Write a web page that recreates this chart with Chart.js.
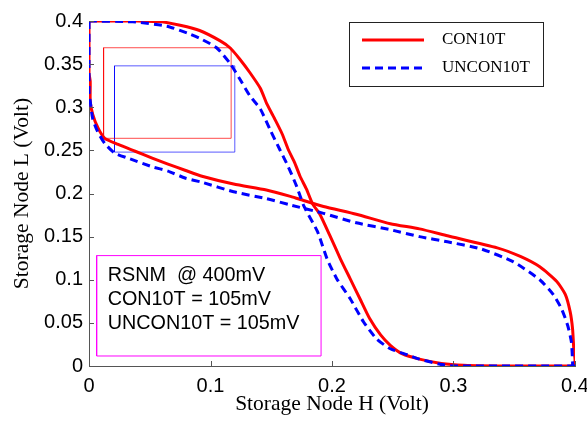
<!DOCTYPE html>
<html>
<head>
<meta charset="utf-8">
<script src="https://cdn.jsdelivr.net/npm/chart.js@4/dist/chart.umd.min.js"></script>
<style>
  html, body { margin: 0; padding: 0; background: #fff; }
  #wrap { width: 587px; height: 422px; }
</style>
</head>
<body>
<div id="wrap"><canvas id="myChart"></canvas></div>
<script>
// CON10T butterfly curves (H and L in volt)
var conH1 = [0, 0.02, 0.04, 0.06, 0.075, 0.091, 0.108, 0.116, 0.124, 0.1325, 0.141, 0.1465, 0.153, 0.159, 0.164, 0.1695, 0.1737, 0.179, 0.184, 0.190, 0.198, 0.207, 0.215, 0.223, 0.231, 0.240, 0.248, 0.258, 0.272, 0.290, 0.308, 0.35, 0.4];
var conL1 = [0.4, 0.4, 0.4, 0.399, 0.395, 0.389, 0.377, 0.369, 0.356, 0.340, 0.322, 0.3035, 0.286, 0.269, 0.251, 0.235, 0.220, 0.205, 0.188, 0.176, 0.152, 0.124, 0.101, 0.078, 0.055, 0.036, 0.024, 0.014, 0.008, 0.003, 0.001, 0, 0];
var conH2 = [0, 0, 0.001, 0.001, 0.003, 0.0074, 0.013, 0.024, 0.038, 0.052, 0.065, 0.079, 0.093, 0.119, 0.146, 0.165, 0.174, 0.193, 0.220, 0.248, 0.272, 0.295, 0.336, 0.355, 0.371, 0.385, 0.392, 0.396, 0.398, 0.399, 0.4, 0.4];
var conL2 = [0.4, 0.34, 0.330, 0.307, 0.292, 0.276, 0.264, 0.257, 0.249, 0.241, 0.234, 0.227, 0.220, 0.211, 0.204, 0.197, 0.193, 0.185, 0.176, 0.165, 0.159, 0.151, 0.137, 0.127, 0.115, 0.098, 0.083, 0.063, 0.043, 0.02, 0.008, 0];

// UNCON10T butterfly curves
var unconH1 = [0, 0.036, 0.064, 0.081, 0.091, 0.105, 0.116, 0.124, 0.1325, 0.141, 0.149, 0.157, 0.164, 0.171, 0.177, 0.188, 0.196, 0.204, 0.215, 0.226, 0.237, 0.248, 0.262, 0.272, 0.289, 0.30, 0.4];
var unconL1 = [0.4, 0.399, 0.394, 0.386, 0.380, 0.369, 0.351, 0.333, 0.313, 0.298, 0.274, 0.251, 0.231, 0.208, 0.185, 0.156, 0.124, 0.101, 0.078, 0.051, 0.031, 0.020, 0.013, 0.008, 0.002, 0, 0];
var unconH2 = [0, 0, 0.001, 0.003, 0.007, 0.013, 0.021, 0.032, 0.052, 0.065, 0.079, 0.093, 0.119, 0.146, 0.165, 0.193, 0.220, 0.248, 0.272, 0.295, 0.322, 0.349, 0.371, 0.382, 0.389, 0.394, 0.397, 0.398, 0.398];
var unconL2 = [0.4, 0.318, 0.307, 0.287, 0.272, 0.258, 0.247, 0.241, 0.231, 0.226, 0.218, 0.213, 0.202, 0.194, 0.187, 0.177, 0.166, 0.158, 0.150, 0.144, 0.136, 0.121, 0.100, 0.083, 0.066, 0.047, 0.028, 0.005, 0];

// noise margin squares [h1, h2, l1, l2]
var conBox = [0.012, 0.117, 0.264, 0.369];
var unconBox = [0.021, 0.120, 0.248, 0.348];
// annotation box [h1, h2, l1, l2]
var noteBox = [0.0063, 0.191, 0.0116, 0.128];
var noteLines = ["RSNM  @ 400mV", "CON10T = 105mV", "UNCON10T = 105mV"];

var xTicks = [0, 0.1, 0.2, 0.3, 0.4];
var yTicks = [0, 0.05, 0.1, 0.15, 0.2, 0.25, 0.3, 0.35, 0.4];
var seriesNames = ["CON10T", "UNCON10T"];

function pts(xs, ys) {
    var out = [];
    for (var i = 0; i < xs.length; i++) out.push({x: xs[i], y: ys[i]});
    return out;
}
function rect(b) {
    return [{x: b[0], y: b[2]}, {x: b[1], y: b[2]}, {x: b[1], y: b[3]}, {x: b[0], y: b[3]}, {x: b[0], y: b[2]}];
}
function line(data, color, width, dash, order, tension) {
    return {data: data, showLine: true, borderColor: color, borderWidth: width, borderDash: dash,
        pointRadius: 0, fill: false, tension: tension || 0, order: order};
}
function tickText(v) {
    return String(parseFloat(v.toFixed(2)));
}

// inward tick marks on both axes
var tickPlugin = {
    id: 'inTicks',
    afterDatasetsDraw: function (chart) {
        var c = chart.ctx, xs = chart.scales.x, ys = chart.scales.y;
        c.save();
        c.strokeStyle = '#555';
        c.lineWidth = 1;
        c.beginPath();
        xTicks.forEach(function (v) {
            var px = Math.round(xs.getPixelForValue(v)) + 0.5;
            c.moveTo(px, ys.bottom); c.lineTo(px, ys.bottom - 5);
        });
        yTicks.forEach(function (v) {
            var py = Math.round(ys.getPixelForValue(v)) + 0.5;
            c.moveTo(xs.left, py); c.lineTo(xs.left + 5, py);
        });
        c.stroke();
        c.restore();
    }
};

// legend box and note text
var notePlugin = {
    id: 'notes',
    afterDraw: function (chart) {
        var c = chart.ctx, xs = chart.scales.x, ys = chart.scales.y;
        c.save();
        // note text
        c.fillStyle = '#000';
        c.font = '19.8px "Liberation Sans", Arial, sans-serif';
        c.textBaseline = 'middle';
        var tx = xs.getPixelForValue(noteBox[0]) + 11;
        var ty = ys.getPixelForValue(noteBox[3]) + 20;
        noteLines.forEach(function (t, i) { c.fillText(t, tx, ty + i * 24); });

        // legend
        c.fillStyle = '#fff';
        c.fillRect(349, 22, 194, 64);
        c.strokeStyle = '#222';
        c.lineWidth = 1;
        c.strokeRect(349.5, 22.5, 194, 64);
        var styles = [{color: '#ff0000', dash: []}, {color: '#0000ff', dash: [8, 5]}];
        c.font = '17px "Liberation Serif", "Times New Roman", serif';
        seriesNames.forEach(function (name, i) {
            var y = 40 + i * 28;
            c.strokeStyle = styles[i].color;
            c.lineWidth = 3;
            c.setLineDash(styles[i].dash);
            c.beginPath(); c.moveTo(362, y); c.lineTo(424, y); c.stroke();
            c.setLineDash([]);
            c.fillStyle = '#000';
            c.fillText(name, 442, y);
        });
        c.restore();
    }
};

var ctx = document.getElementById("myChart");
var myChart = new Chart(ctx, {
    type: 'scatter',
    data: {
        datasets: [
            line(pts(unconH1, unconL1), '#0000ff', 3, [8, 5], 1, 0.2),
            line(pts(unconH2, unconL2), '#0000ff', 3, [8, 5], 1, 0.2),
            line(pts(conH1, conL1), '#ff0000', 3, [], 2, 0.2),
            line(pts(conH2, conL2), '#ff0000', 3, [], 2, 0.2),
            line(rect(conBox), 'rgba(255,0,0,0.7)', 1, [], 3),
            line(rect(unconBox), 'rgba(0,0,255,0.65)', 1, [], 3),
            line(rect(noteBox), '#ff00ff', 1, [], 3)
        ]
    },
    options: {
        responsive: true,
        maintainAspectRatio: false,
        animation: false,
        events: [],
        layout: { padding: { top: 21, right: 0, left: 0, bottom: 0 } },
        plugins: { legend: { display: false }, tooltip: { enabled: false } },
        scales: {
            x: {
                type: 'linear', min: 0, max: 0.4,
                afterFit: function (s) { s.height = 56; s.paddingRight = 12; s.paddingLeft = 0; },
                grid: { display: false, drawTicks: false },
                border: { display: true, color: '#555', width: 1 },
                ticks: { stepSize: 0.1, padding: 8, color: '#000', maxRotation: 0, callback: tickText,
                    font: { family: '"Liberation Sans", Arial, sans-serif', size: 20 } },
                title: { display: true, text: 'Storage Node H (Volt)', color: '#000', padding: { top: 0, bottom: 5 },
                    font: { family: '"Liberation Serif", "Times New Roman", serif', size: 21.5 } }
            },
            y: {
                type: 'linear', min: 0, max: 0.4,
                afterFit: function (s) { s.width = 89; },
                grid: { display: false, drawTicks: false },
                border: { display: true, color: '#555', width: 1 },
                ticks: { stepSize: 0.05, padding: 6, color: '#000', callback: tickText,
                    font: { family: '"Liberation Sans", Arial, sans-serif', size: 20 } },
                title: { display: true, text: 'Storage Node L (Volt)', color: '#000', padding: { top: 9, bottom: 0 },
                    font: { family: '"Liberation Serif", "Times New Roman", serif', size: 21.5 } }
            }
        }
    },
    plugins: [tickPlugin, notePlugin]
});
</script>
</body>
</html>
